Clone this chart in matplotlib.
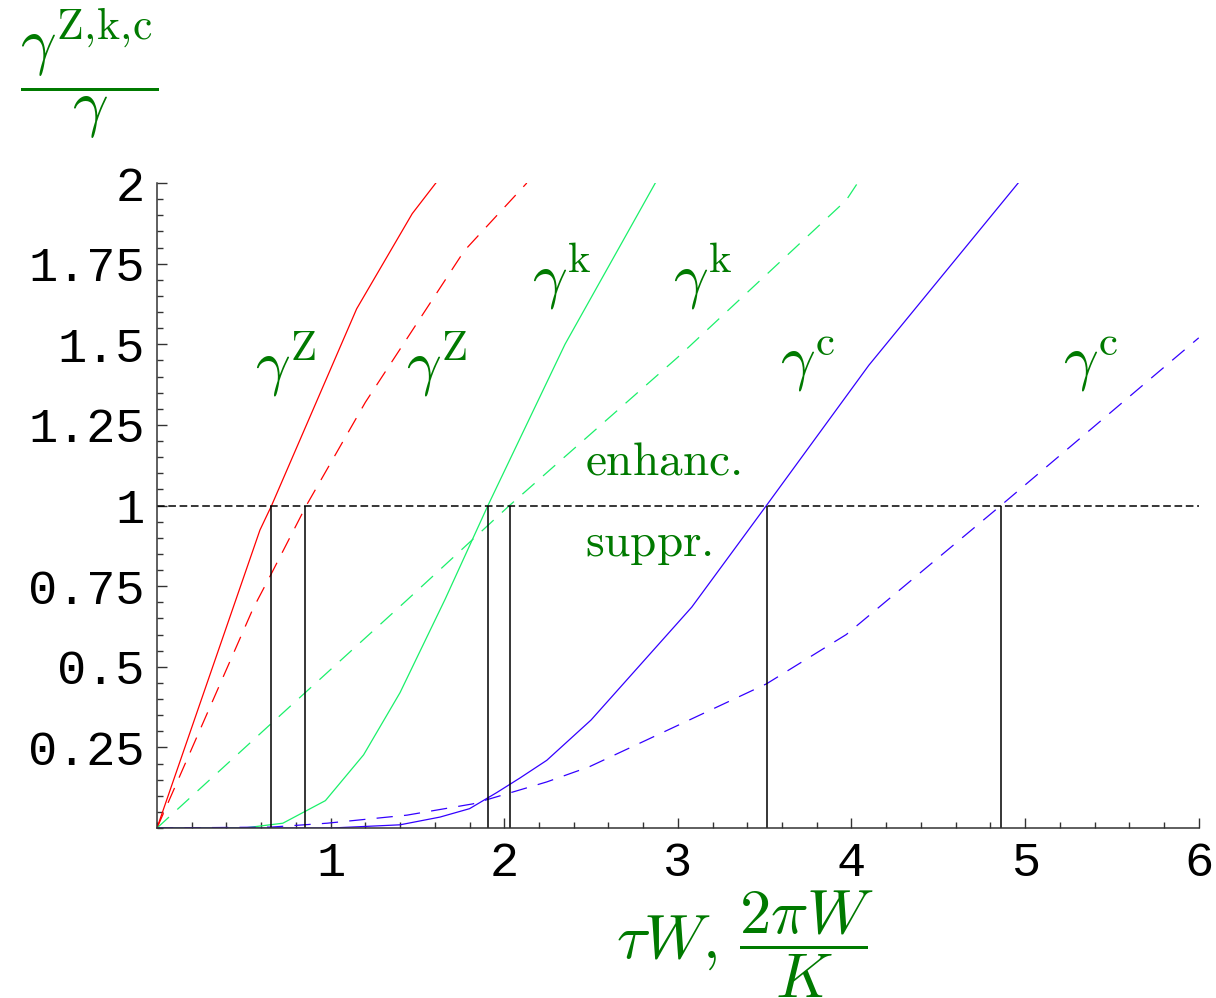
import matplotlib
matplotlib.use("Agg")
import matplotlib.pyplot as plt
from matplotlib.ticker import MultipleLocator, FixedLocator

plt.rcParams["mathtext.fontset"] = "cm"
plt.rcParams["font.family"] = "serif"
plt.rcParams["font.serif"] = ["DejaVu Serif"]

# ratio gamma^{Z,k,c}/gamma against tau*W (solid) and 2*pi*W/K (dashed)
z_solid_x = [0.0, 0.593, 0.66, 1.15, 1.47, 1.606]
z_solid_y = [0.0, 0.924, 1.0, 1.61, 1.905, 2.0]
z_dash_x = [0.0, 0.553, 0.66, 0.86, 1.2, 1.77, 2.13]
z_dash_y = [0.0, 0.68, 0.79, 1.0, 1.32, 1.79, 2.0]

k_solid_x = [0.0, 0.5, 0.725, 0.97, 1.19, 1.40, 1.66, 1.906, 2.35, 2.87]
k_solid_y = [0.0, 0.0, 0.015, 0.085, 0.227, 0.42, 0.71, 1.0, 1.5, 2.0]
k_dash_x = [0.0, 0.66, 1.44, 2.03, 3.0, 3.97, 4.035]
k_dash_y = [0.0, 0.325, 0.707, 1.0, 1.46, 1.947, 2.0]

c_solid_x = [0.0, 1.0, 1.4, 1.63, 1.8, 1.957, 2.09, 2.245, 2.50, 3.08, 3.51, 4.10, 4.96]
c_solid_y = [0.0, 0.0, 0.01, 0.034, 0.06, 0.11, 0.155, 0.21, 0.335, 0.685, 1.0, 1.435, 2.0]
c_dash_x = [0.0, 0.66, 0.98, 1.44, 1.82, 2.245, 2.49, 2.82, 3.51, 3.97, 4.86, 6.0]
c_dash_y = [0.0, 0.003, 0.015, 0.04, 0.075, 0.143, 0.19, 0.273, 0.447, 0.60, 1.0, 1.52]

# where each curve crosses 1
crossings = [0.656, 0.855, 1.906, 2.035, 3.512, 4.86]

labels = [r"$\gamma^{\mathrm{Z}}$", r"$\gamma^{\mathrm{Z}}$",
          r"$\gamma^{\mathrm{k}}$", r"$\gamma^{\mathrm{k}}$",
          r"$\gamma^{\mathrm{c}}$", r"$\gamma^{\mathrm{c}}$"]
label_x = [0.74, 1.61, 2.33, 3.14, 3.75, 5.38]
label_y = [1.44, 1.44, 1.71, 1.71, 1.44, 1.44]

red = "#ff0000"
green = "#1af06a"
blue = "#3300ff"
txt = "#007a00"

fig = plt.figure(figsize=(12.16, 9.98), dpi=100)
ax = fig.add_axes([0.1291, 0.1703, 0.8567, 0.6463])

lw = 0.9
dash = (13, 9)
ax.plot(z_solid_x, z_solid_y, color=red, lw=lw)
ax.plot(z_dash_x, z_dash_y, color=red, lw=lw, dashes=dash)
ax.plot(k_solid_x, k_solid_y, color=green, lw=lw)
ax.plot(k_dash_x, k_dash_y, color=green, lw=lw, dashes=dash)
ax.plot(c_solid_x, c_solid_y, color=blue, lw=lw)
ax.plot(c_dash_x, c_dash_y, color=blue, lw=lw, dashes=dash)

ax.axhline(1.0, color="black", lw=1.1, dashes=(5, 2.4))
ax.vlines(crossings, 0, 1, color="black", lw=1.1)

for s, x, y in zip(labels, label_x, label_y):
    ax.text(x, y, s, color=txt, fontsize=44, ha="center", va="center")
ax.text(2.91, 1.135, r"$\mathrm{enhanc.}$", color=txt, fontsize=34, ha="center", va="center")
ax.text(2.83, 0.88, r"$\mathrm{suppr.}$", color=txt, fontsize=34, ha="center", va="center")

ax.set_xlim(0, 6)
ax.set_ylim(0, 2)
for side in ["top", "right"]:
    ax.spines[side].set_visible(False)
for side in ["left", "bottom"]:
    ax.spines[side].set_color("#333333")
    ax.spines[side].set_linewidth(1.1)

ax.xaxis.set_major_locator(FixedLocator([1, 2, 3, 4, 5, 6]))
ax.xaxis.set_minor_locator(MultipleLocator(0.2))
ax.yaxis.set_major_locator(FixedLocator([0.25, 0.5, 0.75, 1.0, 1.25, 1.5, 1.75, 2.0]))
ax.yaxis.set_minor_locator(MultipleLocator(0.05))
ax.set_yticklabels(["0.25", "0.5", "0.75", "1", "1.25", "1.5", "1.75", "2"])
ax.tick_params(which="both", direction="in", color="#333333", width=1.0)
ax.tick_params(which="major", length=7, labelsize=35, pad=9)
ax.tick_params(which="minor", length=4)
for t in ax.get_xticklabels() + ax.get_yticklabels():
    t.set_fontfamily("Liberation Mono")

fig.text(0.0735, 0.926, r"$\dfrac{\gamma^{\mathrm{Z},\!\mathrm{k},\!\mathrm{c}}}{\gamma}$",
         color=txt, fontsize=45, ha="center", va="center")
fig.text(0.613, 0.054, r"$\tau W,\,\dfrac{2\pi W}{K}$", color=txt,
         fontsize=45, ha="center", va="center")

fig.savefig("out.png", dpi=100)
